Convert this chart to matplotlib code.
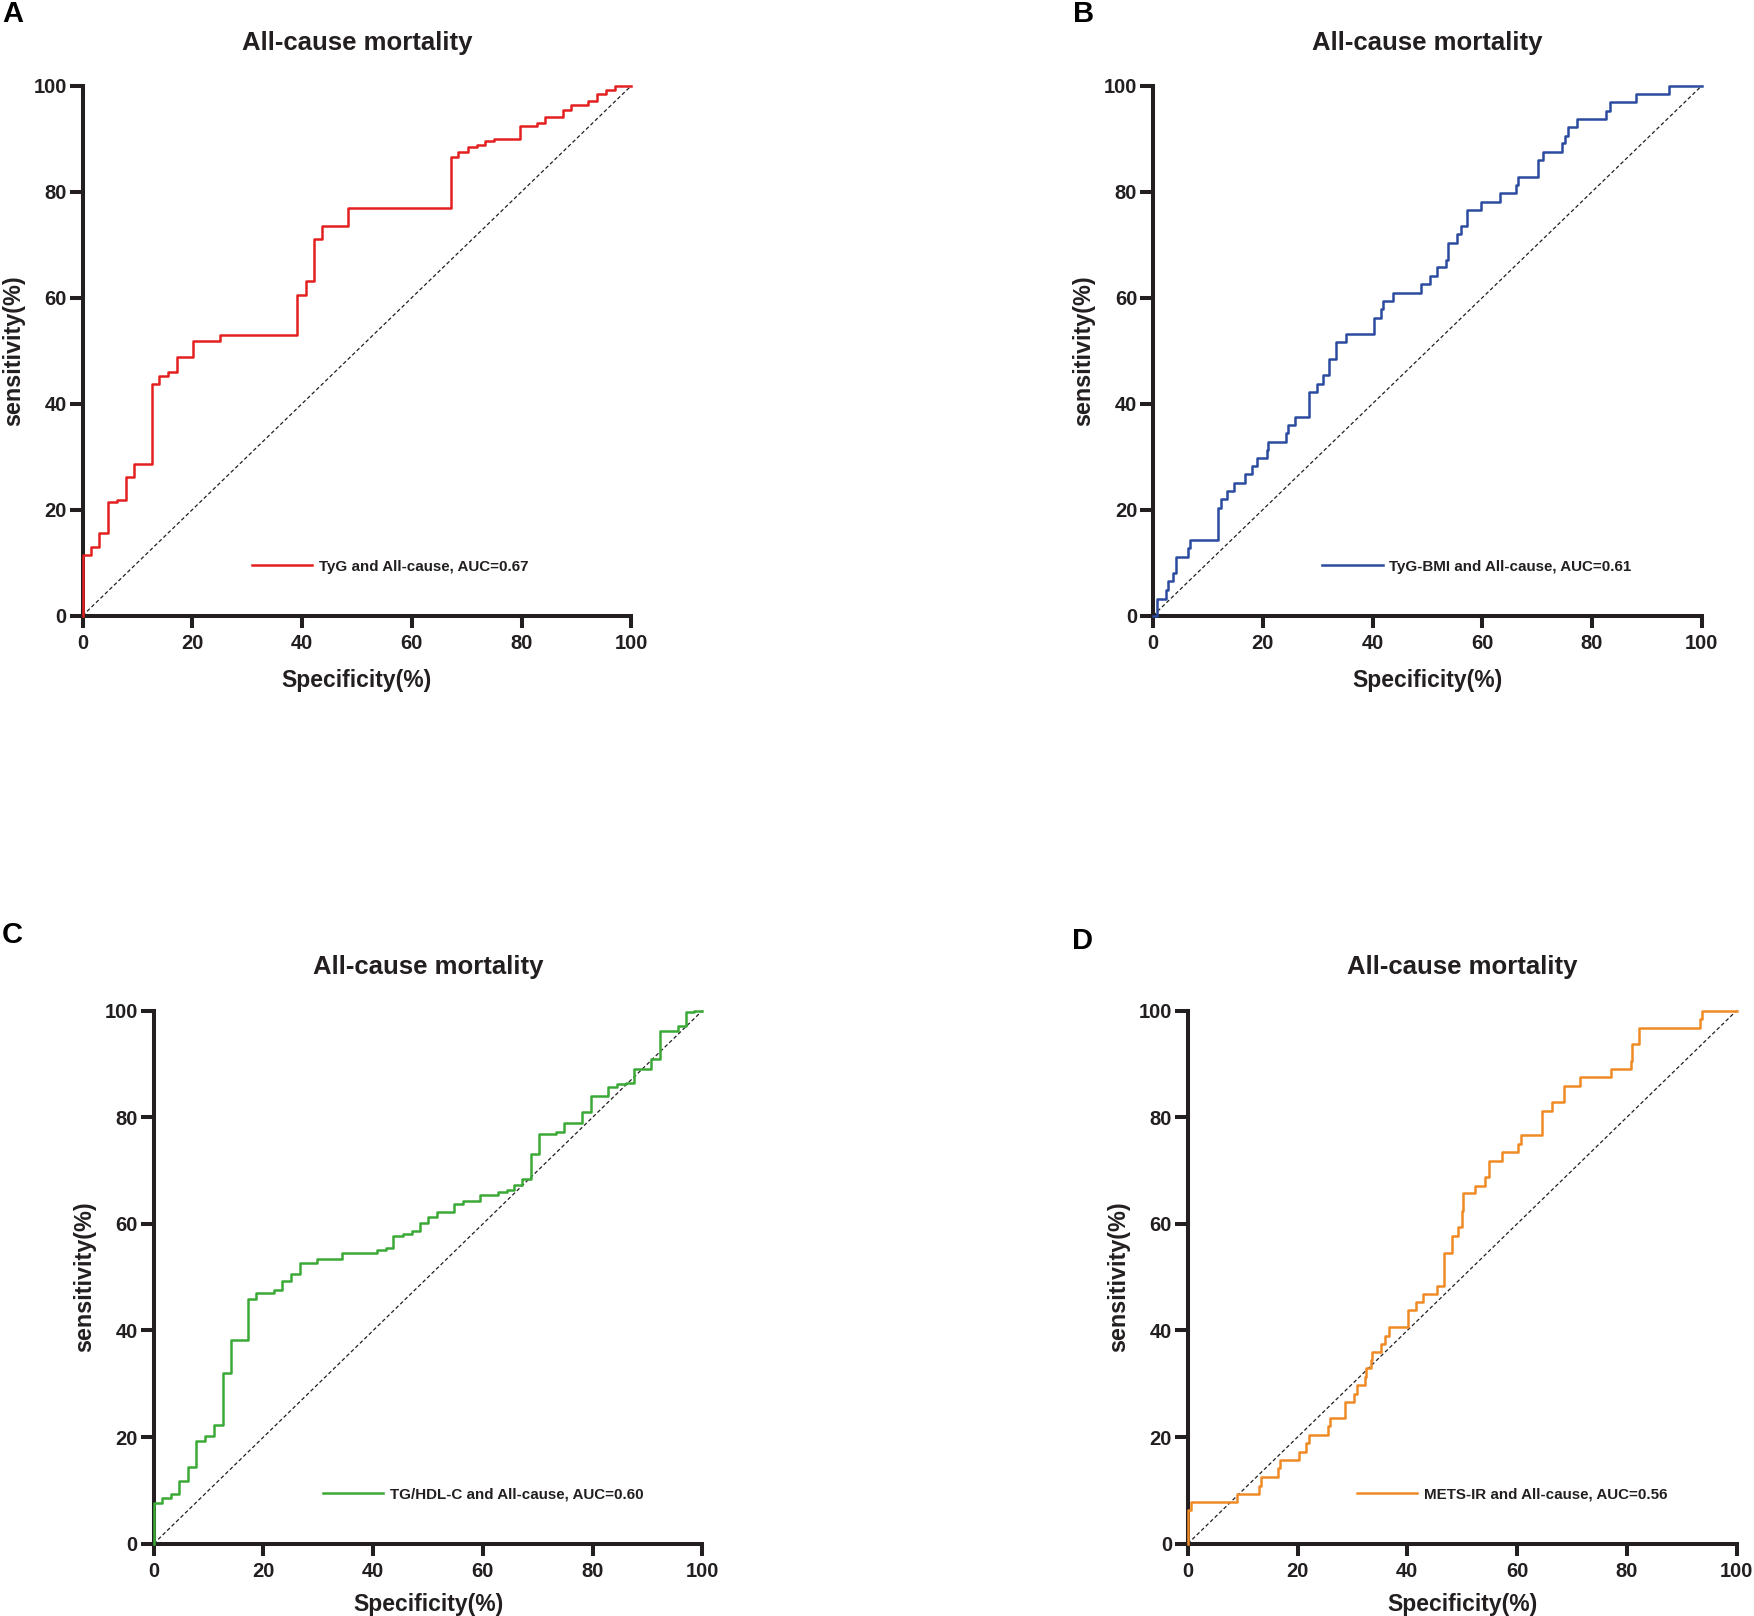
"""
ROC curves for all-cause mortality: TyG, TyG-BMI, TG/HDL-C and METS-IR.
"""

import matplotlib
matplotlib.use('Agg')
import matplotlib.pyplot as plt

plt.rcParams.update({
    'font.family': ['Liberation Sans', 'DejaVu Sans'],
    'font.weight': 'bold',
    'axes.labelweight': 'bold',
    'axes.titleweight': 'bold',
})

INK = '#231f20'

# step vertices of each ROC curve (100 - specificity, sensitivity), in %
tyg_x = [0, 0, 1.5, 3.0, 4.6, 6.3, 7.9, 9.3, 12.6, 14.0, 15.6, 17.2, 20.2, 25.0,
         39.0, 40.7, 42.1, 43.7, 48.4, 67.2, 68.5, 70.2, 71.8, 73.4, 75.0, 79.7,
         82.8, 84.3, 87.5, 89.0, 92.1, 93.7, 95.4, 97.0, 100]
tyg_y = [0, 11.4, 13.0, 15.6, 21.5, 21.9, 26.1, 28.6, 43.8, 45.3, 45.9, 48.8, 51.8, 52.9,
         60.6, 63.1, 71.0, 73.6, 76.9, 86.5, 87.5, 88.4, 88.8, 89.6, 89.9, 92.4,
         93.0, 94.1, 95.5, 96.3, 97.1, 98.4, 99.2, 100, 100]

bmi_x = [0, 0.65, 2.4, 2.8, 3.7, 4.2, 6.3, 6.7, 11.9, 12.3, 13.4, 14.7, 16.7, 18.0,
         18.9, 20.7, 21.0, 24.2, 24.6, 25.9, 28.5, 29.8, 31.0, 32.0, 33.4, 35.2,
         40.3, 41.5, 42.0, 43.7, 48.8, 50.4, 51.7, 53.3, 53.7, 55.4, 56.2, 57.2,
         59.8, 63.3, 66.1, 66.5, 70.2, 71.0, 74.6, 75.1, 75.6, 77.2, 82.5, 83.2,
         88.0, 94.1, 100]
bmi_y = [0, 3.2, 4.9, 6.5, 8.0, 11.1, 12.8, 14.3, 20.4, 22.1, 23.6, 25.1, 26.7, 28.2,
         29.8, 31.3, 32.8, 34.5, 36.0, 37.5, 42.3, 43.8, 45.5, 48.5, 51.6, 53.2,
         56.2, 57.9, 59.3, 60.9, 62.5, 64.1, 65.7, 67.2, 70.3, 72.0, 73.5, 76.6,
         78.1, 79.7, 81.2, 82.7, 85.9, 87.5, 89.1, 90.6, 92.2, 93.8, 95.3, 96.9,
         98.4, 100, 100]

hdl_x = [0, 0, 1.5, 3.1, 4.6, 6.2, 7.8, 9.4, 11.0, 12.6, 14.1, 17.2, 18.7, 22.0,
         23.4, 25.0, 26.6, 29.8, 34.4, 40.7, 42.3, 43.7, 45.4, 47.0, 48.5, 50.0,
         51.6, 54.8, 56.3, 59.5, 62.8, 64.4, 65.7, 67.1, 68.7, 70.3, 73.4, 74.8,
         78.0, 79.7, 82.8, 84.4, 86.0, 87.6, 90.7, 92.3, 95.5, 97.0, 98.4, 100]
hdl_y = [0, 7.6, 8.5, 9.3, 11.8, 14.3, 19.3, 20.2, 22.3, 32.1, 38.3, 45.9, 47.1, 47.5,
         49.2, 50.5, 52.6, 53.4, 54.6, 55.1, 55.5, 57.7, 58.1, 58.6, 60.1, 61.3,
         62.2, 63.8, 64.3, 65.5, 65.9, 66.4, 67.2, 68.5, 73.1, 76.8, 77.2, 78.9,
         81.0, 83.9, 85.6, 86.2, 86.4, 89.0, 91.0, 96.1, 97.1, 99.7, 100, 100]

mets_x = [0, 0, 0.65, 8.9, 13.0, 13.4, 16.4, 16.8, 20.2, 21.5, 22.0, 25.6, 26.0,
          28.6, 30.2, 30.9, 32.3, 32.5, 33.3, 33.6, 35.2, 36.0, 36.6, 40.2, 41.6,
          42.9, 45.4, 46.6, 48.2, 49.2, 50.0, 50.2, 52.4, 54.1, 54.9, 57.3, 60.2,
          60.8, 64.6, 66.3, 68.5, 71.5, 77.2, 80.7, 81.0, 82.3, 93.3, 93.7, 100]
mets_y = [0, 6.4, 7.8, 9.3, 10.9, 12.6, 14.2, 15.7, 17.2, 18.8, 20.3, 22.0, 23.5,
          26.6, 28.1, 29.7, 31.2, 32.9, 34.4, 36.0, 37.5, 39.0, 40.7, 43.8, 45.3,
          46.9, 48.4, 54.6, 57.8, 59.4, 62.4, 65.7, 67.1, 68.7, 71.8, 73.5, 75.0,
          76.6, 81.2, 82.8, 85.9, 87.5, 89.0, 90.6, 93.7, 96.7, 98.4, 100, 100]

panel_letters = ['A', 'B', 'C', 'D']
curve_labels = ['TyG and All-cause, AUC=0.67', 'TyG-BMI and All-cause, AUC=0.61',
                'TG/HDL-C and All-cause, AUC=0.60', 'METS-IR and All-cause, AUC=0.56']
curve_colors = ['#e3201f', '#2a4b9e', '#3aa935', '#f08a24']
curves = [(tyg_x, tyg_y), (bmi_x, bmi_y), (hdl_x, hdl_y), (mets_x, mets_y)]
ticks = [0, 20, 40, 60, 80, 100]

W, H = 1754, 1616
fig = plt.figure(figsize=(W / 100, H / 100), dpi=100)

# axes boxes in pixels: left, top, right, bottom
boxes = [(82.5, 85.7, 631.3, 615.7), (1153, 85.7, 1701.8, 615.7),
         (153.7, 1010.6, 702.4, 1543.7), (1187.8, 1010.6, 1736.6, 1543.7)]
# baseline positions of the panel letters, pixels
letter_pos = [(2, 22), (1073, 22), (2, 943), (1072, 949)]
# bottom row sits close to the lower edge, so its x label is pulled up a little
xlabel_pads = [11.5, 11.5, 9, 9]

for i, (l, t, r, b) in enumerate(boxes):
    ax = fig.add_axes([l / W, 1 - b / H, (r - l) / W, (b - t) / H])
    xs, ys = curves[i]
    ax.plot([0, 100], [0, 100], color=INK, lw=0.9, ls=(0, (3, 2)), clip_on=False)
    ax.step(xs, ys, where='post', color=curve_colors[i], lw=1.8,
            label=curve_labels[i], clip_on=False, zorder=3)
    ax.set_xlim(0, 100)
    ax.set_ylim(0, 100)
    ax.set_xticks(ticks)
    ax.set_yticks(ticks)
    for s in ['top', 'right']:
        ax.spines[s].set_visible(False)
    for s in ['left', 'bottom']:
        ax.spines[s].set_linewidth(2.9)
        ax.spines[s].set_color(INK)
        ax.spines[s].set_capstyle('projecting')
    ax.tick_params(axis='y', length=9.4, width=2.9, color=INK, pad=2,
                   labelsize=14.5, labelcolor=INK)
    ax.tick_params(axis='x', length=8.6, width=2.9, color=INK, pad=4.5,
                   labelsize=14.5, labelcolor=INK)
    for lab in ax.get_xticklabels() + ax.get_yticklabels():
        lab.set_fontweight('bold')
    ax.set_title('All-cause mortality', fontsize=18.5, color=INK, pad=26)
    ax.set_xlabel('Specificity(%)', fontsize=16.5, color=INK, labelpad=xlabel_pads[i])
    ax.set_ylabel('sensitivity(%)', fontsize=16.8, color=INK, labelpad=6)
    leg = ax.legend(loc='center left', bbox_to_anchor=(0.308, 0.0925), frameon=False,
                    fontsize=10.9, handlelength=4.0, handletextpad=0.45,
                    borderpad=0, borderaxespad=0)
    for txt in leg.get_texts():
        txt.set_color(INK)
    lx, ly = letter_pos[i]
    fig.text(lx / W, 1 - ly / H, panel_letters[i], fontsize=21, fontweight='bold',
             color='black', ha='left', va='baseline')

fig.savefig('out.png', dpi=100, facecolor='white')
plt.close(fig)
